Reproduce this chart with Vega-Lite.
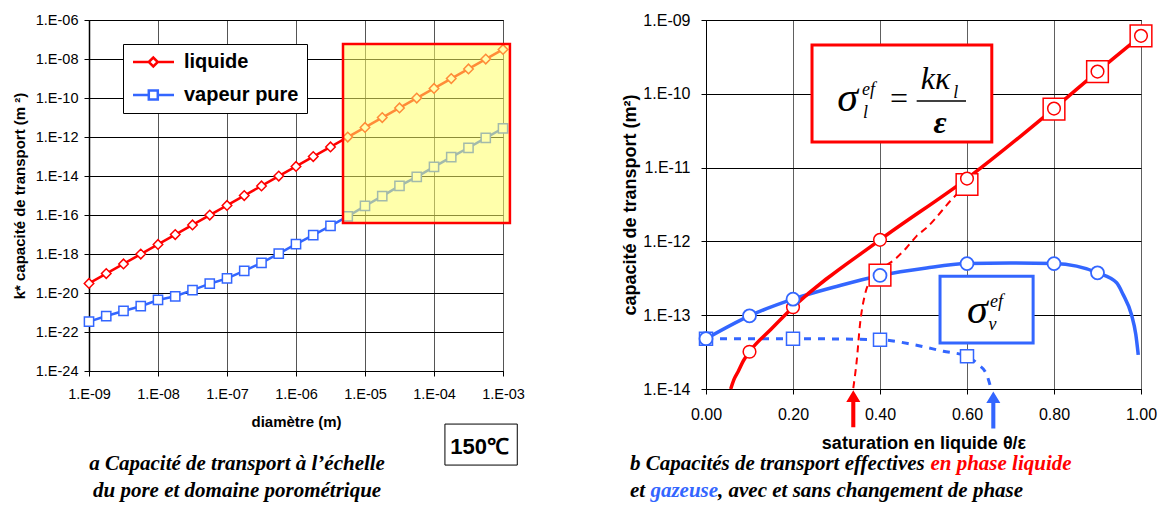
{
  "$schema": "https://vega.github.io/schema/vega-lite/v6.json",
  "background": "white",
  "padding": {"left": 11, "top": 11, "right": 5, "bottom": 0},
  "config": {
    "font": "Liberation Sans",
    "view": {"stroke": "black", "strokeWidth": 1},
    "axis": {"domainColor": "black", "tickColor": "black", "labelColor": "black", "titleColor": "black", "labelFont": "Liberation Sans", "titleFont": "Liberation Sans", "titleFontWeight": "bold", "gridOpacity": 1, "tickSize": 5, "labelFlush": false}
  },
  "datasets": {
    "pore": [
      {"d": 1e-9, "k": 3.1e-20, "phase": "liquide"}, {"d": 1.778e-9, "k": 9.9e-20, "phase": "liquide"}, {"d": 3.162e-9, "k": 3.1e-19, "phase": "liquide"}, {"d": 5.623e-9, "k": 9.9e-19, "phase": "liquide"},
      {"d": 1e-8, "k": 3.1e-18, "phase": "liquide"}, {"d": 1.778e-8, "k": 9.9e-18, "phase": "liquide"}, {"d": 3.162e-8, "k": 3.1e-17, "phase": "liquide"}, {"d": 5.623e-8, "k": 9.9e-17, "phase": "liquide"},
      {"d": 1e-7, "k": 3.1e-16, "phase": "liquide"}, {"d": 1.778e-7, "k": 9.9e-16, "phase": "liquide"}, {"d": 3.162e-7, "k": 3.1e-15, "phase": "liquide"}, {"d": 5.623e-7, "k": 9.9e-15, "phase": "liquide"},
      {"d": 1e-6, "k": 3.1e-14, "phase": "liquide"}, {"d": 1.778e-6, "k": 9.9e-14, "phase": "liquide"}, {"d": 3.162e-6, "k": 3.1e-13, "phase": "liquide"}, {"d": 5.623e-6, "k": 9.9e-13, "phase": "liquide"},
      {"d": 1e-5, "k": 3.1e-12, "phase": "liquide"}, {"d": 1.778e-5, "k": 9.9e-12, "phase": "liquide"}, {"d": 3.162e-5, "k": 3.1e-11, "phase": "liquide"}, {"d": 5.623e-5, "k": 9.9e-11, "phase": "liquide"},
      {"d": 1e-4, "k": 3.1e-10, "phase": "liquide"}, {"d": 1.778e-4, "k": 9.9e-10, "phase": "liquide"}, {"d": 3.162e-4, "k": 3.1e-9, "phase": "liquide"}, {"d": 5.623e-4, "k": 9.9e-9, "phase": "liquide"},
      {"d": 1e-3, "k": 3.1e-8, "phase": "liquide"},
      {"d": 1e-9, "k": 3.4e-22, "phase": "vapeur pure"}, {"d": 1.778e-9, "k": 6.6e-22, "phase": "vapeur pure"}, {"d": 3.162e-9, "k": 1.2e-21, "phase": "vapeur pure"}, {"d": 5.623e-9, "k": 2.1e-21, "phase": "vapeur pure"},
      {"d": 1e-8, "k": 4.4e-21, "phase": "vapeur pure"}, {"d": 1.778e-8, "k": 6.8e-21, "phase": "vapeur pure"}, {"d": 3.162e-8, "k": 1.4e-20, "phase": "vapeur pure"}, {"d": 5.623e-8, "k": 3.0e-20, "phase": "vapeur pure"},
      {"d": 1e-7, "k": 5.6e-20, "phase": "vapeur pure"}, {"d": 1.778e-7, "k": 1.35e-19, "phase": "vapeur pure"}, {"d": 3.162e-7, "k": 3.5e-19, "phase": "vapeur pure"}, {"d": 5.623e-7, "k": 1.05e-18, "phase": "vapeur pure"},
      {"d": 1e-6, "k": 3.2e-18, "phase": "vapeur pure"}, {"d": 1.778e-6, "k": 9.3e-18, "phase": "vapeur pure"}, {"d": 3.162e-6, "k": 2.75e-17, "phase": "vapeur pure"}, {"d": 5.623e-6, "k": 8.5e-17, "phase": "vapeur pure"},
      {"d": 1e-5, "k": 2.9e-16, "phase": "vapeur pure"}, {"d": 1.778e-5, "k": 9.3e-16, "phase": "vapeur pure"}, {"d": 3.162e-5, "k": 3.1e-15, "phase": "vapeur pure"}, {"d": 5.623e-5, "k": 9.1e-15, "phase": "vapeur pure"},
      {"d": 1e-4, "k": 2.95e-14, "phase": "vapeur pure"}, {"d": 1.778e-4, "k": 9.3e-14, "phase": "vapeur pure"}, {"d": 3.162e-4, "k": 2.8e-13, "phase": "vapeur pure"}, {"d": 5.623e-4, "k": 9.1e-13, "phase": "vapeur pure"},
      {"d": 1e-3, "k": 2.8e-12, "phase": "vapeur pure"}
    ],
    "liq": [
      {"sat": 0.0568, "k": 1.0e-14}, {"sat": 0.0644, "k": 1.35e-14}, {"sat": 0.0743, "k": 1.74e-14}, {"sat": 0.0858, "k": 2.4e-14},
      {"sat": 0.1, "k": 3.2e-14}, {"sat": 0.15, "k": 6.5e-14}, {"sat": 0.2, "k": 1.28e-13}, {"sat": 0.4, "k": 1.05e-12},
      {"sat": 0.6, "k": 7.1e-12}, {"sat": 0.8, "k": 6.3e-11}, {"sat": 0.9, "k": 2.0e-10}, {"sat": 1.0, "k": 6.1e-10}
    ],
    "liq_pts": [
      {"sat": 0.1, "k": 3.2e-14}, {"sat": 0.2, "k": 1.28e-13}, {"sat": 0.4, "k": 1.05e-12}, {"sat": 0.6, "k": 7.1e-12},
      {"sat": 0.8, "k": 6.3e-11}, {"sat": 0.9, "k": 2.0e-10}, {"sat": 1.0, "k": 6.1e-10}
    ],
    "liq_pc": [
      {"sat": 0.3386, "k": 1.03e-14}, {"sat": 0.3464, "k": 2.38e-14}, {"sat": 0.354, "k": 7.5e-14}, {"sat": 0.3655, "k": 1.91e-13},
      {"sat": 0.377, "k": 2.89e-13}, {"sat": 0.438, "k": 5.98e-13}, {"sat": 0.461, "k": 8.2e-13}, {"sat": 0.484, "k": 1.18e-12},
      {"sat": 0.507, "k": 1.53e-12}, {"sat": 0.5685, "k": 3.9e-12}, {"sat": 0.6, "k": 5.9e-12}
    ],
    "liq_sq": [
      {"sat": 0.4, "k": 3.5e-13}, {"sat": 0.6, "k": 5.9e-12}, {"sat": 0.8, "k": 6.2e-11}, {"sat": 0.9, "k": 2.0e-10}, {"sat": 1.0, "k": 6.1e-10}
    ],
    "vap": [
      {"sat": 0.0, "k": 4.8e-14}, {"sat": 0.1, "k": 9.8e-14}, {"sat": 0.2, "k": 1.65e-13}, {"sat": 0.3, "k": 2.45e-13},
      {"sat": 0.4, "k": 3.46e-13}, {"sat": 0.507, "k": 4.37e-13}, {"sat": 0.6, "k": 5.0e-13}, {"sat": 0.7, "k": 5.1e-13},
      {"sat": 0.8, "k": 5.0e-13}, {"sat": 0.9, "k": 3.75e-13}, {"sat": 0.944, "k": 2.75e-13}, {"sat": 0.959, "k": 1.9e-13},
      {"sat": 0.978, "k": 1.02e-13}, {"sat": 0.988, "k": 5.5e-14}, {"sat": 0.9937, "k": 2.9e-14}
    ],
    "vap_pts": [
      {"sat": 0.0, "k": 4.8e-14}, {"sat": 0.1, "k": 9.8e-14}, {"sat": 0.2, "k": 1.65e-13}, {"sat": 0.4, "k": 3.46e-13},
      {"sat": 0.6, "k": 5.0e-13}, {"sat": 0.8, "k": 5.0e-13}, {"sat": 0.9, "k": 3.75e-13}
    ],
    "vap_pc": [
      {"sat": 0.0, "k": 4.8e-14}, {"sat": 0.2, "k": 4.8e-14}, {"sat": 0.4, "k": 4.65e-14}, {"sat": 0.4766, "k": 4.0e-14},
      {"sat": 0.5455, "k": 3.25e-14}, {"sat": 0.6, "k": 2.78e-14}, {"sat": 0.626, "k": 2.14e-14}, {"sat": 0.645, "k": 1.58e-14},
      {"sat": 0.655, "k": 1.02e-14}
    ],
    "vap_sq": [
      {"sat": 0.0, "k": 4.8e-14}, {"sat": 0.2, "k": 4.8e-14}, {"sat": 0.4, "k": 4.65e-14}, {"sat": 0.6, "k": 2.78e-14}
    ]
  },
  "spacing": 96,
  "hconcat": [
    {
      "width": 414,
      "height": 351,
      "encoding": {
        "x": {"type": "quantitative", "title": "diamètre (m)",
          "scale": {"type": "log", "domain": [1e-9, 1e-3], "nice": false},
          "axis": {"title": "diamètre (m)", "values": [1e-9, 1e-8, 1e-7, 1e-6, 1e-5, 1e-4, 1e-3], "labelExpr": "'1.E-' + (round(-log(datum.value)/LN10) < 10 ? '0' : '') + round(-log(datum.value)/LN10)", "grid": true, "gridColor": "#555555", "labelFontSize": 14.5, "labelPadding": 11, "titleFontSize": 15, "titlePadding": 14}},
        "y": {"type": "quantitative", "title": "k* capacité de transport (m ²)",
          "scale": {"type": "log", "domain": [1e-24, 1e-6], "nice": false},
          "axis": {"title": "k* capacité de transport (m ²)", "values": [1e-24, 1e-22, 1e-20, 1e-18, 1e-16, 1e-14, 1e-12, 1e-10, 1e-8, 1e-6], "labelExpr": "'1.E-' + (round(-log(datum.value)/LN10) < 10 ? '0' : '') + round(-log(datum.value)/LN10)", "grid": true, "gridColor": "#000000", "labelFontSize": 14.5, "labelPadding": 6, "titleFontSize": 15, "titlePadding": 8, "domainWidth": 1.5}}
      },
      "layer": [
        {
          "data": {"name": "pore"},
          "mark": {"type": "line", "strokeWidth": 2.5},
          "encoding": {
            "x": {"field": "d"},
            "y": {"field": "k"},
            "stroke": {"field": "phase", "type": "nominal", "scale": {"domain": ["liquide", "vapeur pure"], "range": ["#FF0000", "#3366FF"]}}
          }
        },
        {
          "data": {"name": "pore"},
          "transform": [{"filter": "datum.phase === 'liquide'"}],
          "mark": {"type": "point", "shape": "diamond", "filled": true, "fill": "white", "stroke": "#FF0000", "strokeWidth": 1.5, "size": 90, "opacity": 1},
          "encoding": {"x": {"field": "d"}, "y": {"field": "k"}}
        },
        {
          "data": {"name": "pore"},
          "transform": [{"filter": "datum.phase === 'vapeur pure'"}],
          "mark": {"type": "point", "shape": "square", "filled": true, "fill": "white", "stroke": "#3366FF", "strokeWidth": 1.5, "size": 85, "opacity": 1},
          "encoding": {"x": {"field": "d"}, "y": {"field": "k"}}
        },
        {
          "data": {"name": "pore"},
          "mark": {"type": "point", "filled": true, "fill": "white", "strokeWidth": 0, "size": 1, "opacity": 0, "clip": true},
          "encoding": {
            "x": {"field": "d"},
            "y": {"field": "k"},
            "stroke": {"field": "phase", "type": "nominal",
              "legend": {
                "orient": "none", "legendX": 34, "legendY": 24, "title": null,
                "fillColor": "white", "strokeColor": "black", "padding": 8,
                "labelFont": "Liberation Sans", "labelFontSize": 20, "labelFontWeight": "bold", "labelColor": "black",
                "symbolSize": 144, "labelOffset": 33, "rowPadding": 13, "symbolStrokeWidth": 2.5, "symbolOpacity": 1, "symbolFillColor": "white"
              }},
            "shape": {"field": "phase", "type": "nominal",
              "scale": {"domain": ["liquide", "vapeur pure"], "range": ["M-1.33,0H1.3M2.8,0H5.5M1.3,0L2.05,-0.75L2.8,0L2.05,0.75Z", "M-1.33,0H1.3M2.8,0H5.5M1.3,-0.75H2.8V0.75H1.3Z"]},
              "legend": {
                "orient": "none", "legendX": 34, "legendY": 24, "title": null,
                "fillColor": "white", "strokeColor": "black", "padding": 8,
                "labelFont": "Liberation Sans", "labelFontSize": 20, "labelFontWeight": "bold", "labelColor": "black",
                "symbolSize": 144, "labelOffset": 33, "rowPadding": 13, "symbolStrokeWidth": 2.5, "symbolOpacity": 1, "symbolFillColor": "white"
              }}
          }
        },
        {
          "data": {"values": [{}]},
          "mark": {"type": "rect", "fill": "#FFFF66", "fillOpacity": 0.55, "stroke": "#FF0000", "strokeWidth": 2.5},
          "encoding": {"x": {"datum": 4.8e-6}, "x2": {"datum": 1.26e-3}, "y": {"datum": 5.88e-8}, "y2": {"datum": 3.89e-17}}
        },
        {
          "data": {"values": [{}]},
          "mark": {"type": "rect", "fill": "white", "stroke": "black", "strokeWidth": 1},
          "encoding": {"x": {"datum": 1.44e-4}, "x2": {"datum": 1.61e-3}, "y": {"datum": 1.9e-27}, "y2": {"datum": 1.5e-29}}
        },
        {
          "data": {"values": [{}]},
          "mark": {"type": "text", "text": "150℃", "fontSize": 22, "fontWeight": "bold", "align": "center", "baseline": "alphabetic", "color": "black"},
          "encoding": {"x": {"datum": 4.59e-4}, "y": {"datum": 5.55e-29}}
        },
        {
          "data": {"values": [{}]},
          "mark": {"type": "text", "text": "a Capacité de transport à l’échelle", "font": "Liberation Serif", "fontStyle": "italic", "fontWeight": "bold", "fontSize": 21, "align": "center", "baseline": "alphabetic", "color": "black"},
          "encoding": {"x": {"datum": 1.4e-7}, "y": {"datum": 8.4e-30}}
        },
        {
          "data": {"values": [{}]},
          "mark": {"type": "text", "text": "du pore et domaine porométrique", "font": "Liberation Serif", "fontStyle": "italic", "fontWeight": "bold", "fontSize": 21, "align": "center", "baseline": "alphabetic", "color": "black"},
          "encoding": {"x": {"datum": 1.4e-7}, "y": {"datum": 3.5e-31}}
        }
      ]
    },
    {
      "width": 435,
      "height": 369,
      "encoding": {
        "x": {"type": "quantitative", "title": "saturation en liquide θ/ε",
          "scale": {"type": "linear", "domain": [0, 1], "nice": false, "zero": false},
          "axis": {"title": "saturation en liquide θ/ε", "values": [0, 0.2, 0.4, 0.6, 0.8, 1.0], "format": ".2f", "grid": true, "gridColor": "#606060", "labelFontSize": 16, "labelPadding": 12, "titleFontSize": 18, "titlePadding": 12}},
        "y": {"type": "quantitative", "title": "capacité de transport  (m²)",
          "scale": {"type": "log", "domain": [1e-14, 1e-9], "nice": false},
          "axis": {"title": "capacité de transport  (m²)", "values": [1e-14, 1e-13, 1e-12, 1e-11, 1e-10, 1e-9], "labelExpr": "'1.E-' + (round(-log(datum.value)/LN10) < 10 ? '0' : '') + round(-log(datum.value)/LN10)", "grid": true, "gridColor": "#000000", "labelFontSize": 16, "labelPadding": 11, "titleFontSize": 18, "titlePadding": 3}}
      },
      "layer": [
        {
          "data": {"values": [{}]},
          "mark": {"type": "rect", "fill": "white", "stroke": "#FF0000", "strokeWidth": 3},
          "encoding": {"x": {"datum": 0.2437}, "x2": {"datum": 0.657}, "y": {"datum": 4.57e-10}, "y2": {"datum": 2.22e-11}}
        },
        {
          "data": {"values": [{}]},
          "mark": {"type": "rect", "fill": "white", "stroke": "#3366FF", "strokeWidth": 3},
          "encoding": {"x": {"datum": 0.538}, "x2": {"datum": 0.752}, "y": {"datum": 3.38e-13}, "y2": {"datum": 4.21e-14}}
        },
        {"data": {"values": [{}]}, "mark": {"type": "text", "text": "σ", "font": "Liberation Serif", "fontStyle": "italic", "fontSize": 42, "align": "center", "baseline": "alphabetic", "color": "black"}, "encoding": {"x": {"datum": 0.3256}, "y": {"datum": 5.83e-11}}},
        {"data": {"values": [{}]}, "mark": {"type": "text", "text": "ef", "font": "Liberation Serif", "fontStyle": "italic", "fontSize": 18, "align": "left", "baseline": "alphabetic", "color": "black"}, "encoding": {"x": {"datum": 0.3586}, "y": {"datum": 9.6e-11}}},
        {"data": {"values": [{}]}, "mark": {"type": "text", "text": "l", "font": "Liberation Serif", "fontStyle": "italic", "fontSize": 18, "align": "center", "baseline": "alphabetic", "color": "black"}, "encoding": {"x": {"datum": 0.3667}, "y": {"datum": 4.69e-11}}},
        {"data": {"values": [{}]}, "mark": {"type": "text", "text": "=", "font": "Liberation Serif", "fontSize": 32, "align": "center", "baseline": "alphabetic", "color": "black"}, "encoding": {"x": {"datum": 0.4437}, "y": {"datum": 6.21e-11}}},
        {"data": {"values": [{}]}, "mark": {"type": "text", "text": "kκ", "font": "Liberation Serif", "fontStyle": "italic", "fontSize": 32, "align": "center", "baseline": "alphabetic", "color": "black"}, "encoding": {"x": {"datum": 0.5276}, "y": {"datum": 1.16e-10}}},
        {"data": {"values": [{}]}, "mark": {"type": "text", "text": "l", "font": "Liberation Serif", "fontStyle": "italic", "fontSize": 18, "align": "center", "baseline": "alphabetic", "color": "black"}, "encoding": {"x": {"datum": 0.5743}, "y": {"datum": 8.75e-11}}},
        {"data": {"values": [{}]}, "mark": {"type": "rule", "color": "black", "strokeWidth": 1.5}, "encoding": {"x": {"datum": 0.4843}, "x2": {"datum": 0.5977}, "y": {"datum": 7.98e-11}}},
        {"data": {"values": [{}]}, "mark": {"type": "text", "text": "ε", "font": "Liberation Serif", "fontStyle": "italic", "fontWeight": "bold", "fontSize": 32, "align": "center", "baseline": "alphabetic", "color": "black"}, "encoding": {"x": {"datum": 0.5379}, "y": {"datum": 2.96e-11}}},
        {"data": {"values": [{}]}, "mark": {"type": "text", "text": "σ", "font": "Liberation Serif", "fontStyle": "italic", "fontSize": 42, "align": "center", "baseline": "alphabetic", "color": "black"}, "encoding": {"x": {"datum": 0.6241}, "y": {"datum": 7.87e-14}}},
        {"data": {"values": [{}]}, "mark": {"type": "text", "text": "ef", "font": "Liberation Serif", "fontStyle": "italic", "fontSize": 18, "align": "left", "baseline": "alphabetic", "color": "black"}, "encoding": {"x": {"datum": 0.6529}, "y": {"datum": 1.28e-13}}},
        {"data": {"values": [{}]}, "mark": {"type": "text", "text": "v", "font": "Liberation Serif", "fontStyle": "italic", "fontSize": 18, "align": "center", "baseline": "alphabetic", "color": "black"}, "encoding": {"x": {"datum": 0.6586}, "y": {"datum": 6.4e-14}}},
        {
          "data": {"name": "liq_pc"},
          "mark": {"type": "line", "color": "#FF0000", "strokeWidth": 2, "strokeDash": [7, 5], "interpolate": "monotone"},
          "encoding": {"x": {"field": "sat"}, "y": {"field": "k"}}
        },
        {
          "data": {"name": "vap_pc"},
          "mark": {"type": "line", "color": "#3366FF", "strokeWidth": 3, "strokeDash": [7, 7], "interpolate": "monotone"},
          "encoding": {"x": {"field": "sat"}, "y": {"field": "k"}}
        },
        {
          "data": {"name": "vap"},
          "mark": {"type": "line", "color": "#3366FF", "strokeWidth": 3.5, "interpolate": "monotone"},
          "encoding": {"x": {"field": "sat"}, "y": {"field": "k"}}
        },
        {
          "data": {"name": "liq"},
          "mark": {"type": "line", "color": "#FF0000", "strokeWidth": 3.5, "interpolate": "monotone"},
          "encoding": {"x": {"field": "sat"}, "y": {"field": "k"}}
        },
        {
          "data": {"name": "liq_sq"},
          "mark": {"type": "point", "shape": "square", "filled": true, "fill": "white", "stroke": "#FF0000", "strokeWidth": 1.5, "size": 470, "opacity": 1},
          "encoding": {"x": {"field": "sat"}, "y": {"field": "k"}}
        },
        {
          "data": {"name": "vap_sq"},
          "mark": {"type": "point", "shape": "square", "filled": true, "fill": "white", "stroke": "#3366FF", "strokeWidth": 1.5, "size": 169, "opacity": 1},
          "encoding": {"x": {"field": "sat"}, "y": {"field": "k"}}
        },
        {
          "data": {"name": "liq_pts"},
          "mark": {"type": "point", "shape": "circle", "filled": true, "fill": "white", "stroke": "#FF0000", "strokeWidth": 1.5, "size": 160, "opacity": 1},
          "encoding": {"x": {"field": "sat"}, "y": {"field": "k"}}
        },
        {
          "data": {"name": "vap_pts"},
          "mark": {"type": "point", "shape": "circle", "filled": true, "fill": "white", "stroke": "#3366FF", "strokeWidth": 1.8, "size": 169, "opacity": 1},
          "encoding": {"x": {"field": "sat"}, "y": {"field": "k"}}
        },
        {
          "data": {"values": [{}]},
          "mark": {"type": "point", "shape": "M0,-1L0.38,-0.37L0.11,-0.37L0.11,1L-0.11,1L-0.11,-0.37L-0.38,-0.37Z", "size": 1369, "filled": true, "color": "#FF0000", "opacity": 1},
          "encoding": {"x": {"datum": 0.3386}, "y": {"datum": 5.4e-15}}
        },
        {
          "data": {"values": [{}]},
          "mark": {"type": "point", "shape": "M0,-1L0.38,-0.37L0.11,-0.37L0.11,1L-0.11,1L-0.11,-0.37L-0.38,-0.37Z", "size": 1369, "filled": true, "color": "#3366FF", "opacity": 1},
          "encoding": {"x": {"datum": 0.6605}, "y": {"datum": 5.2e-15}}
        },
        {"data": {"values": [{}]}, "mark": {"type": "text", "text": "b Capacités de transport effectives", "font": "Liberation Serif", "fontStyle": "italic", "fontWeight": "bold", "fontSize": 21, "align": "left", "baseline": "alphabetic", "color": "black"}, "encoding": {"x": {"datum": -0.1747}, "y": {"datum": 7.9e-16}}},
        {"data": {"values": [{}]}, "mark": {"type": "text", "text": "en phase liquide", "font": "Liberation Serif", "fontStyle": "italic", "fontWeight": "bold", "fontSize": 21, "align": "left", "baseline": "alphabetic", "color": "#FF0000"}, "encoding": {"x": {"datum": 0.5159}, "y": {"datum": 7.9e-16}}},
        {"data": {"values": [{}]}, "mark": {"type": "text", "text": "et", "font": "Liberation Serif", "fontStyle": "italic", "fontWeight": "bold", "fontSize": 21, "align": "left", "baseline": "alphabetic", "color": "black"}, "encoding": {"x": {"datum": -0.1747}, "y": {"datum": 3.4e-16}}},
        {"data": {"values": [{}]}, "mark": {"type": "text", "text": "gazeuse", "font": "Liberation Serif", "fontStyle": "italic", "fontWeight": "bold", "fontSize": 21, "align": "left", "baseline": "alphabetic", "color": "#3366FF"}, "encoding": {"x": {"datum": -0.1278}, "y": {"datum": 3.4e-16}}},
        {"data": {"values": [{}]}, "mark": {"type": "text", "text": ", avec et sans changement de phase", "font": "Liberation Serif", "fontStyle": "italic", "fontWeight": "bold", "fontSize": 21, "align": "left", "baseline": "alphabetic", "color": "black"}, "encoding": {"x": {"datum": 0.0277}, "y": {"datum": 3.4e-16}}}
      ]
    }
  ]
}
